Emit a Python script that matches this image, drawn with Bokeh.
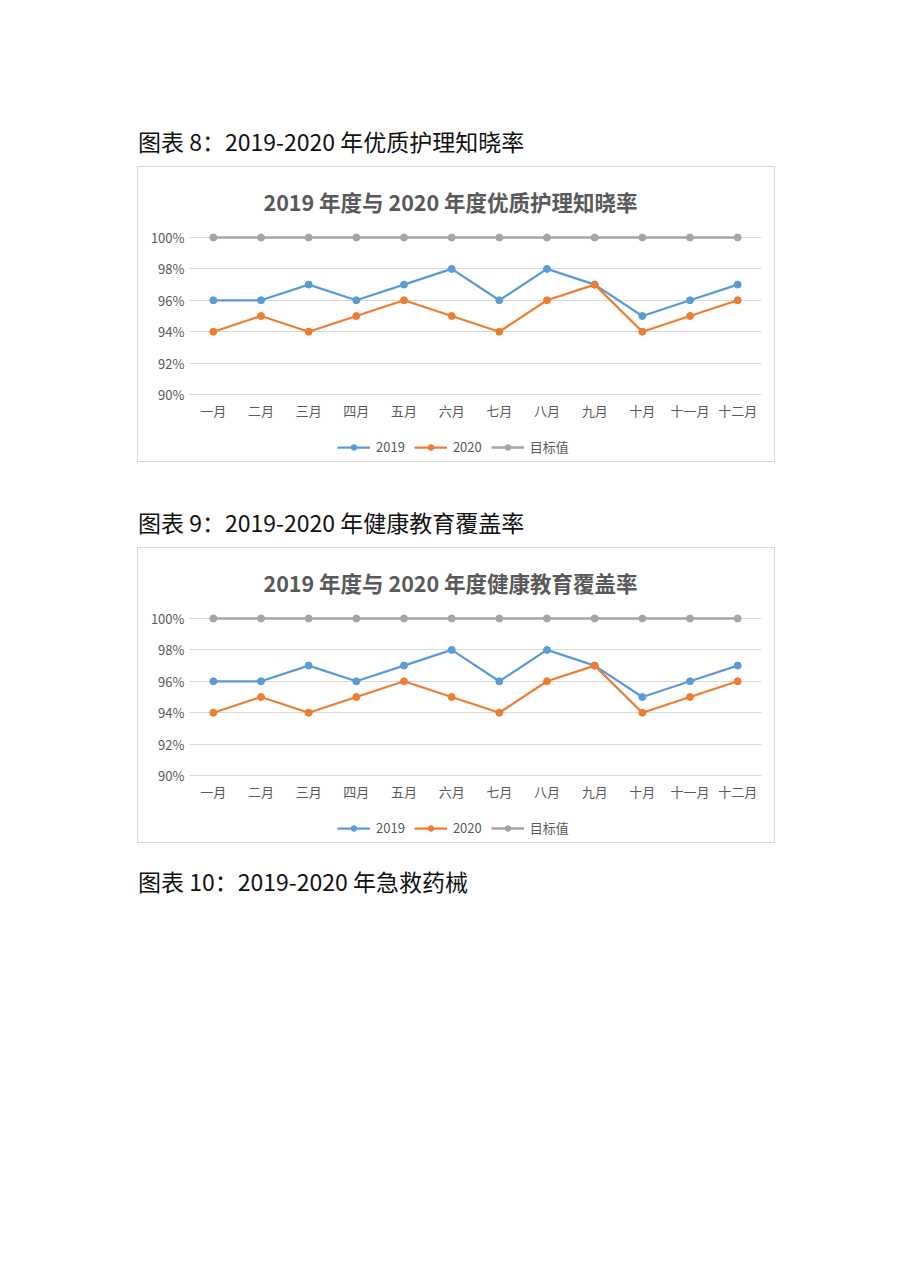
from bokeh.plotting import figure
from bokeh.models import (FactorRange, Range1d, FixedTicker, PrintfTickFormatter,
                          Legend, LegendItem, Div, InlineStyleSheet)
from bokeh.layouts import column
from bokeh.embed import file_html
from bokeh.resources import INLINE

# ---------------- data ----------------
months = ["一月", "二月", "三月", "四月", "五月", "六月",
          "七月", "八月", "九月", "十月", "十一月", "十二月"]
y2019 = [96, 96, 97, 96, 97, 98, 96, 98, 97, 95, 96, 97]
y2020 = [94, 95, 94, 95, 96, 95, 94, 96, 97, 94, 95, 96]
target = [100, 100, 100, 100, 100, 100, 100, 100, 100, 100, 100, 100]
y_ticks = [90, 92, 94, 96, 98, 100]
series_names = ["2019", "2020", "目标值"]

headings = ["图表 8：2019-2020 年优质护理知晓率",
            "图表 9：2019-2020 年健康教育覆盖率",
            "图表 10：2019-2020 年急救药械"]
chart_titles = ["2019 年度与 2020 年度优质护理知晓率",
                "2019 年度与 2020 年度健康教育覆盖率"]

# ---------------- style ----------------
FONT = "Noto Sans CJK SC"
C2019 = "#5b9bd5"
C2020 = "#ed7d31"
CTGT = "#a5a5a5"
TXT = "#595959"
LEFT = 138
BOX_W = 636
CHART_H = 260
LEG_H = 34


def spacer(h):
    return Div(text="", width=10, height=h, margin=(0, 0, 0, 0))


def heading(txt):
    html = ('<div style="font-family:\'%s\';font-size:23px;line-height:30px;'
            'color:#111;white-space:nowrap;">%s</div>' % (FONT, txt))
    return Div(text=html, width=700, height=30, margin=(0, 0, 0, LEFT))


def add_series(p):
    rends = []
    for ys, col in zip([y2019, y2020, target], [C2019, C2020, CTGT]):
        lw = 2.5 if col == CTGT else 2.25
        l = p.line(months, ys, line_color=col, line_width=lw)
        s = p.scatter(months, ys, marker="circle", size=7,
                      fill_color=col, line_color=col)
        rends.append([l, s])
    return rends


def make_chart(title_text):
    p = figure(width=BOX_W, height=CHART_H,
               x_range=FactorRange(factors=months, range_padding=0),
               y_range=Range1d(89.873, 100.382),
               output_backend="svg", toolbar_location=None,
               min_border_left=51, min_border_right=13,
               min_border_top=64, min_border_bottom=31,
               outline_line_color=None,
               background_fill_color="white", border_fill_color="white",
               margin=(0, 0, 0, 0))

    p.title.text = title_text
    p.title.align = "left"
    p.title.offset = 74
    p.title.standoff = 30
    p.title.text_font = FONT
    p.title.text_font_size = "21.5px"
    p.title.text_font_style = "bold"
    p.title.text_color = TXT

    p.yaxis.ticker = FixedTicker(ticks=y_ticks)
    p.yaxis.formatter = PrintfTickFormatter(format="%d%%")
    for ax in (p.xaxis[0], p.yaxis[0]):
        ax.axis_line_color = None
        ax.major_tick_line_color = None
        ax.minor_tick_line_color = None
        ax.major_tick_out = 0
        ax.major_tick_in = 0
        ax.minor_tick_out = 0
        ax.minor_tick_in = 0
        ax.major_label_text_font = FONT
        ax.major_label_text_font_size = "13px"
        ax.major_label_text_color = TXT
    p.yaxis.major_label_standoff = 5
    p.xaxis.major_label_standoff = 4

    p.xgrid.grid_line_color = None
    p.ygrid.ticker = FixedTicker(ticks=y_ticks)
    p.ygrid.grid_line_color = "#d9d9d9"
    p.ygrid.grid_line_width = 1

    add_series(p)

    # legend strip (same series; y-range keeps the marks out of view)
    lf = figure(width=BOX_W, height=LEG_H,
                x_range=FactorRange(factors=months, range_padding=0),
                y_range=Range1d(0, 1),
                x_axis_type=None, y_axis_type=None,
                output_backend="svg", toolbar_location=None,
                min_border=0, outline_line_color=None,
                background_fill_color="white", border_fill_color="white",
                margin=(0, 0, 0, 0))
    lf.xgrid.grid_line_color = None
    lf.ygrid.grid_line_color = None
    rends = add_series(lf)
    items = [LegendItem(label=n, renderers=r) for n, r in zip(series_names, rends)]
    leg = Legend(items=items, orientation="horizontal", location=(148, 5),
                 glyph_width=33, glyph_height=14, label_standoff=6, spacing=9,
                 padding=0, margin=0, border_line_color=None,
                 background_fill_alpha=0,
                 label_text_font=FONT, label_text_font_size="13px",
                 label_text_color=TXT)
    lf.add_layout(leg)

    box = column(p, lf, spacing=0, width=BOX_W, height=CHART_H + LEG_H,
                 margin=(0, 0, 0, LEFT))
    box.stylesheets = [InlineStyleSheet(css=":host { outline: 1px solid #d9d9d9; }")]
    return box


box1 = make_chart(chart_titles[0])
box2 = make_chart(chart_titles[1])

layout = column(
    spacer(126),
    heading(headings[0]),
    spacer(11),
    box1,
    spacer(46),
    heading(headings[1]),
    spacer(11),
    box2,
    spacer(24),
    heading(headings[2]),
    spacing=0,
)

open("out.html", "w").write(file_html(layout, INLINE))
